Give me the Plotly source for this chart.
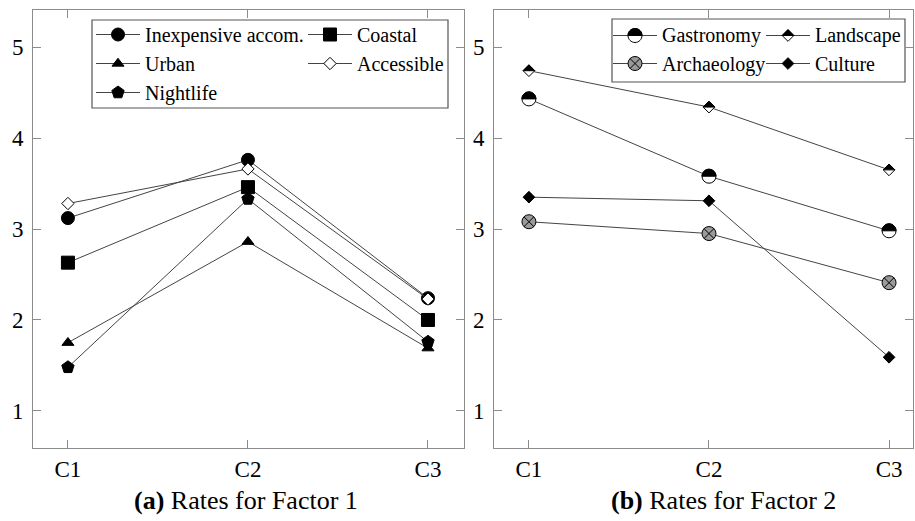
import plotly.graph_objects as go

W, H = 915, 521

categories = ["C1", "C2", "C3"]
xpos = [1, 2, 3]

# Factor 1 series
inexpensive = [3.12, 3.76, 2.24]
coastal = [2.63, 3.46, 2.00]
urban = [1.75, 2.86, 1.69]
accessible = [3.28, 3.66, 2.23]
nightlife = [1.48, 3.33, 1.76]

# Factor 2 series
gastronomy = [4.43, 3.58, 2.98]
landscape = [4.74, 4.34, 3.65]
archaeology = [3.08, 2.95, 2.41]
culture = [3.35, 3.31, 1.59]

ytick_vals = [1, 2, 3, 4, 5]

FONT = "Liberation Serif"
LINE = "#444444"
AX = "#8c8c8c"

def px(x):
    return x / W

def py(y):
    return (H - y) / H

fig = go.Figure()

def add(name, y, xa, ya, symbol, size, fill, legend, showlegend=True):
    fig.add_trace(go.Scatter(
        x=xpos, y=y, name=name, mode="lines+markers",
        xaxis=xa, yaxis=ya, legend=legend, showlegend=showlegend,
        line=dict(color=LINE, width=1),
        marker=dict(symbol=symbol, size=size, color=fill,
                    line=dict(color="black", width=1)),
    ))

def legend_text_only(name, xa, ya, legend):
    # legend entry whose symbol is drawn separately (half-filled marks)
    fig.add_trace(go.Scatter(
        x=[None], y=[None], name=name, mode="lines",
        xaxis=xa, yaxis=ya, legend=legend,
        line=dict(color="rgba(0,0,0,0)", width=1),
    ))

# left panel: column 1 legend, column 2 legend2
add("Inexpensive accom.", inexpensive, "x", "y", "circle", 13, "black", "legend")
add("Coastal", coastal, "x", "y", "square", 13, "black", "legend2")
add("Urban", urban, "x", "y", "triangle-up", 10.5, "black", "legend")
add("Nightlife", nightlife, "x", "y", "pentagon", 13, "black", "legend")
add("Accessible", accessible, "x", "y", "diamond", 9.5, "white", "legend2")

# right panel
add("Gastronomy", gastronomy, "x2", "y2", "circle", 14, "white", "legend3", False)
legend_text_only("Gastronomy", "x2", "y2", "legend3")
add("Archaeology", archaeology, "x2", "y2", "circle-x", 14, "#9a9a9a", "legend3")
add("Landscape", landscape, "x2", "y2", "diamond", 9, "white", "legend4", False)
legend_text_only("Landscape", "x2", "y2", "legend4")
add("Culture", culture, "x2", "y2", "diamond", 9, "black", "legend4")

# half-filled overlays (top half black)
K = 0.5523

def half_circle(r):
    k = K * r
    return (f"M {-r},0 C {-r},{k} {-k},{r} 0,{r} "
            f"C {k},{r} {r},{k} {r},0 Z")

def full_circle(r):
    k = K * r
    return (f"M {-r},0 C {-r},{k} {-k},{r} 0,{r} C {k},{r} {r},{k} {r},0 "
            f"C {r},{-k} {k},{-r} 0,{-r} C {-k},{-r} {-r},{-k} {-r},0 Z")

def half_diamond(r):
    return f"M {-r},0 L 0,{r} L {r},0 Z"

def full_diamond(r):
    return f"M {-r},0 L 0,{r} L {r},0 L 0,{-r} Z"

def pshape(xref, yref, xa, ya, path, fill):
    return dict(type="path", xref=xref, yref=yref, xsizemode="pixel",
                ysizemode="pixel", xanchor=xa, yanchor=ya, path=path,
                fillcolor=fill, line=dict(color="black", width=1),
                layer="above")

shapes = []
for xv, yv in zip(xpos, gastronomy):
    shapes.append(pshape("x2", "y2", xv, yv, half_circle(7), "black"))
for xv, yv in zip(xpos, landscape):
    shapes.append(pshape("x2", "y2", xv, yv, half_diamond(5.85), "black"))

# legend boxes
shapes.append(dict(type="rect", xref="paper", yref="paper",
                   x0=px(92), x1=px(448), y0=py(108), y1=py(20),
                   line=dict(color="#555555", width=1.2), fillcolor="white",
                   layer="below"))
shapes.append(dict(type="rect", xref="paper", yref="paper",
                   x0=px(612), x1=px(905), y0=py(82), y1=py(19),
                   line=dict(color="#555555", width=1.2), fillcolor="white",
                   layer="below"))

axis_common = dict(
    showline=True, linecolor=AX, linewidth=1, mirror="ticks",
    ticks="inside", ticklen=8, tickcolor=AX, tickwidth=1,
    showgrid=False, zeroline=False,
    tickfont=dict(family=FONT, size=23, color="black"),
)

fig.update_layout(
    width=W, height=H, margin=dict(l=0, r=0, t=0, b=0),
    paper_bgcolor="white", plot_bgcolor="white",
    font=dict(family=FONT, size=20, color="black"),
    xaxis=dict(domain=[px(33), px(464)], range=[0.806, 3.2],
               tickvals=xpos, ticktext=categories, anchor="y", **axis_common),
    yaxis=dict(domain=[py(448), py(10)], range=[0.593, 5.407],
               tickvals=ytick_vals, anchor="x", ticklabelstandoff=4, **axis_common),
    xaxis2=dict(domain=[px(494), px(913)], range=[0.806, 3.133],
                tickvals=xpos, ticktext=categories, anchor="y2", **axis_common),
    yaxis2=dict(domain=[py(448), py(10)], range=[0.593, 5.407],
                tickvals=ytick_vals, anchor="x2", ticklabelstandoff=4, **axis_common),
)

leg_common = dict(bgcolor="rgba(0,0,0,0)", borderwidth=0, xanchor="left",
                  yanchor="top", font=dict(family=FONT, size=20, color="black"),
                  orientation="v", itemwidth=44)
L3X, L4X, ROW1 = 608, 761, 35.5
fig.update_layout(
    legend=dict(x=px(91), y=py(15), **leg_common),
    legend2=dict(x=px(303), y=py(15), **leg_common),
    legend3=dict(x=px(L3X), y=py(15), **leg_common),
    legend4=dict(x=px(L4X), y=py(15), **leg_common),
)

# legend symbols for the half-filled marks
for lx, full, half in [(L3X, full_circle(7), half_circle(7)),
                       (L4X, full_diamond(5.85), half_diamond(5.85))]:
    shapes.append(dict(type="line", xref="paper", yref="paper",
                       x0=px(lx + 5), x1=px(lx + 49), y0=py(ROW1), y1=py(ROW1),
                       line=dict(color=LINE, width=1), layer="above"))
    shapes.append(pshape("paper", "paper", px(lx + 27), py(ROW1), full, "white"))
    shapes.append(pshape("paper", "paper", px(lx + 27), py(ROW1), half, "black"))
fig.update_layout(shapes=shapes)

fig.add_annotation(text="<b>(a)</b> Rates for Factor 1", xref="paper", yref="paper",
                   x=px(246), y=py(500), xanchor="center", yanchor="middle",
                   showarrow=False, font=dict(family=FONT, size=26, color="black"))
fig.add_annotation(text="<b>(b)</b> Rates for Factor 2", xref="paper", yref="paper",
                   x=px(723), y=py(500), xanchor="center", yanchor="middle",
                   showarrow=False, font=dict(family=FONT, size=26, color="black"))

fig.write_html("out.html", config={"displayModeBar": False},
               post_script="document.body.style.margin='0px';")
